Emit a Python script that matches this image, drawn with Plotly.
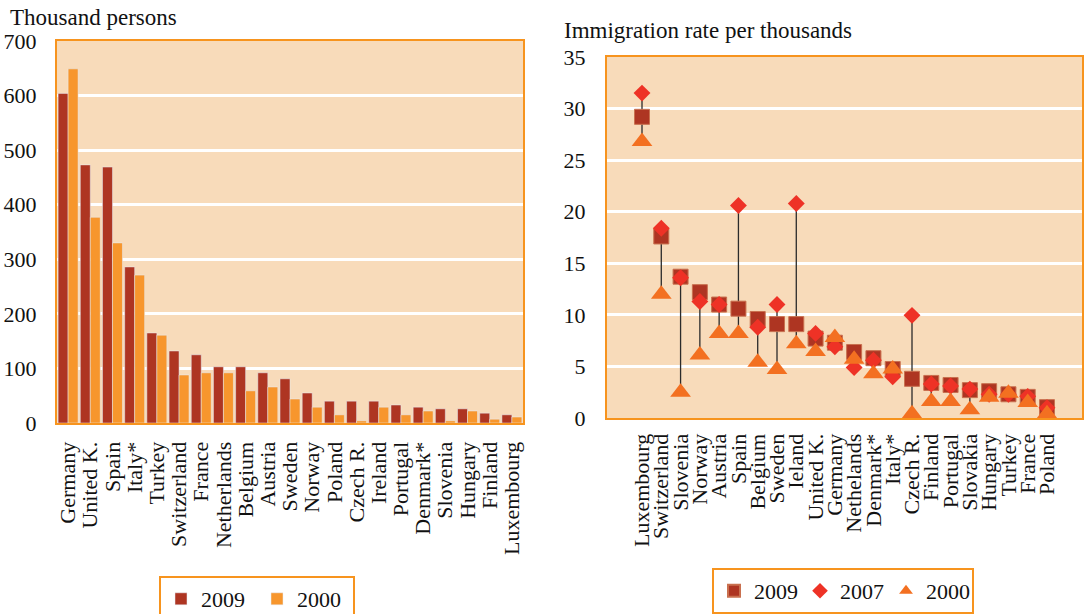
import plotly.graph_objects as go

# ---- Left panel: immigrants, thousand persons ----
countries_abs = ["Germany", "United K.", "Spain", "Italy*", "Turkey", "Switzerland",
                 "France", "Netherlands", "Belgium", "Austria", "Sweden", "Norway",
                 "Poland", "Czech R.", "Ireland", "Portugal", "Denmark*", "Slovenia",
                 "Hungary", "Finland", "Luxembourg"]
abs_2009 = [604, 473, 469, 286, 165, 132, 125, 103, 103, 92, 81, 55,
            40, 40, 40, 33, 29, 26, 26, 18, 15]
abs_2000 = [649, 377, 330, 271, 161, 88, 92, 92, 59, 66, 44, 29,
            15, 4, 29, 15, 22, 4, 22, 7, 11]

# ---- Right panel: immigration rate per thousand inhabitants ----
countries_rate = ["Luxembourg", "Switzerland", "Slovenia", "Norway", "Austria", "Spain",
                  "Belgium", "Sweden", "Ieland", "United K.", "Germany", "Nethelands",
                  "Denmark*", "Italy*", "Czech R.", "Finland", "Portugal", "Slovakia",
                  "Hungary", "Turkey", "France", "Poland"]
rate_2009 = [29.2, 17.6, 13.7, 12.2, 11.0, 10.6, 9.6, 9.1, 9.1, 7.7, 7.3, 6.4,
             5.8, 4.75, 3.8, 3.4, 3.2, 2.7, 2.6, 2.3, 2.05, 1.05]
rate_2007 = [31.5, 18.4, 13.6, 11.3, 11.0, 20.6, 8.8, 11.0, 20.8, 8.2, 6.9, 4.9,
             5.6, 4.0, 9.95, 3.3, 3.1, 2.8, 2.3, 2.3, 2.1, 1.0]
rate_2000 = [26.8, 12.0, 2.5, 6.1, 8.2, 8.2, 5.4, 4.7, 7.2, 6.45, 7.8, 5.7,
             4.3, 4.75, 0.4, 1.6, 1.6, 0.8, 2.0, 2.4, 1.5, 0.4]

FONT = "Liberation Serif"
BG = "#F8DBBA"
BORDER = "#F7941E"
DARK = "#AE3522"
ORANGE = "#F7962D"
RED = "#EE3226"
TRI = "#F37021"

W, H = 1087, 614


def px_x(x):
    return x / W


def px_y(y):
    return 1 - y / H


fig = go.Figure()

fig.add_trace(go.Bar(x=countries_abs, y=abs_2009, name="2009", marker_color=DARK,
                     xaxis="x", yaxis="y", legend="legend"))
fig.add_trace(go.Bar(x=countries_abs, y=abs_2000, name="2000", marker_color=ORANGE,
                     xaxis="x", yaxis="y", legend="legend"))

# high-low connectors spanning the three years for each country
hl_x, hl_y = [], []
for c, a, b, d in zip(countries_rate, rate_2009, rate_2007, rate_2000):
    vals = (a, b, d)
    hl_x += [c, c, None]
    hl_y += [min(vals), max(vals), None]
fig.add_trace(go.Scatter(x=hl_x, y=hl_y, mode="lines", line=dict(color="#2b2b2b", width=1.3),
                         showlegend=False, hoverinfo="skip", xaxis="x2", yaxis="y2"))

fig.add_trace(go.Scatter(x=countries_rate, y=rate_2009, mode="markers", name="2009",
                         marker=dict(symbol="square", size=15, color=DARK,
                                     line=dict(color="#C9704F", width=1)),
                         xaxis="x2", yaxis="y2", legend="legend2"))
fig.add_trace(go.Scatter(x=countries_rate, y=rate_2007, mode="markers", name="2007",
                         marker=dict(symbol="diamond", size=13, color=RED),
                         xaxis="x2", yaxis="y2", legend="legend2"))
fig.add_trace(go.Scatter(x=countries_rate, y=rate_2000, mode="markers", name="2000",
                         marker=dict(symbol="triangle-up", size=18, color=TRI),
                         xaxis="x2", yaxis="y2", legend="legend2"))

axis_common = dict(
    showline=True, mirror=True, linecolor=BORDER, linewidth=2,
    tickfont=dict(family=FONT, size=22, color="#111"),
    layer="below traces", zeroline=False,
)

fig.update_layout(
    width=W, height=H,
    margin=dict(l=0, r=0, t=0, b=0, autoexpand=False),
    paper_bgcolor="white",
    plot_bgcolor=BG,
    font=dict(family=FONT, size=22, color="#111"),
    barmode="group", bargap=0.1, bargroupgap=0,
    xaxis=dict(domain=[px_x(57), px_x(523)], anchor="y", tickangle=-90,
               tickmode="linear", dtick=1,
               ticks="outside", ticklen=8, tickcolor="rgba(0,0,0,0)",
               showgrid=False, **axis_common),
    yaxis=dict(domain=[px_y(423), px_y(41)], anchor="x", range=[0, 700], dtick=100,
               ticks="outside", ticklen=14, tickcolor="rgba(0,0,0,0)",
               showgrid=True, gridcolor="white", gridwidth=2.5, **axis_common),
    xaxis2=dict(domain=[px_x(607), px_x(1082)], anchor="y2", tickangle=-90,
                tickmode="linear", dtick=1,
                ticks="outside", ticklen=5, tickcolor="rgba(0,0,0,0)",
                showgrid=False, **axis_common),
    yaxis2=dict(domain=[px_y(418), px_y(57)], anchor="x2", range=[0, 35], dtick=5,
                ticks="outside", ticklen=15, tickcolor="rgba(0,0,0,0)",
                showgrid=True, gridcolor="white", gridwidth=2.5, **axis_common),
    legend=dict(orientation="h", x=px_x(159), y=px_y(576), xanchor="left", yanchor="top",
                bordercolor=BORDER, borderwidth=2, bgcolor="white",
                entrywidth=51, entrywidthmode="pixels",
                font=dict(family=FONT, size=22, color="#111")),
    legend2=dict(orientation="h", x=px_x(712), y=px_y(568), xanchor="left", yanchor="top",
                 bordercolor=BORDER, borderwidth=2, bgcolor="white",
                 entrywidth=41, entrywidthmode="pixels", itemsizing="constant",
                 font=dict(family=FONT, size=22, color="#111")),
    annotations=[
        dict(text="Thousand persons", x=px_x(8), y=px_y(17), xref="paper", yref="paper",
             xanchor="left", yanchor="middle", showarrow=False,
             font=dict(family=FONT, size=23, color="#111")),
        dict(text="Immigration rate per thousands", x=px_x(562), y=px_y(30),
             xref="paper", yref="paper", xanchor="left", yanchor="middle", showarrow=False,
             font=dict(family=FONT, size=23, color="#111")),
    ],
)

fig.write_html("out.html")
